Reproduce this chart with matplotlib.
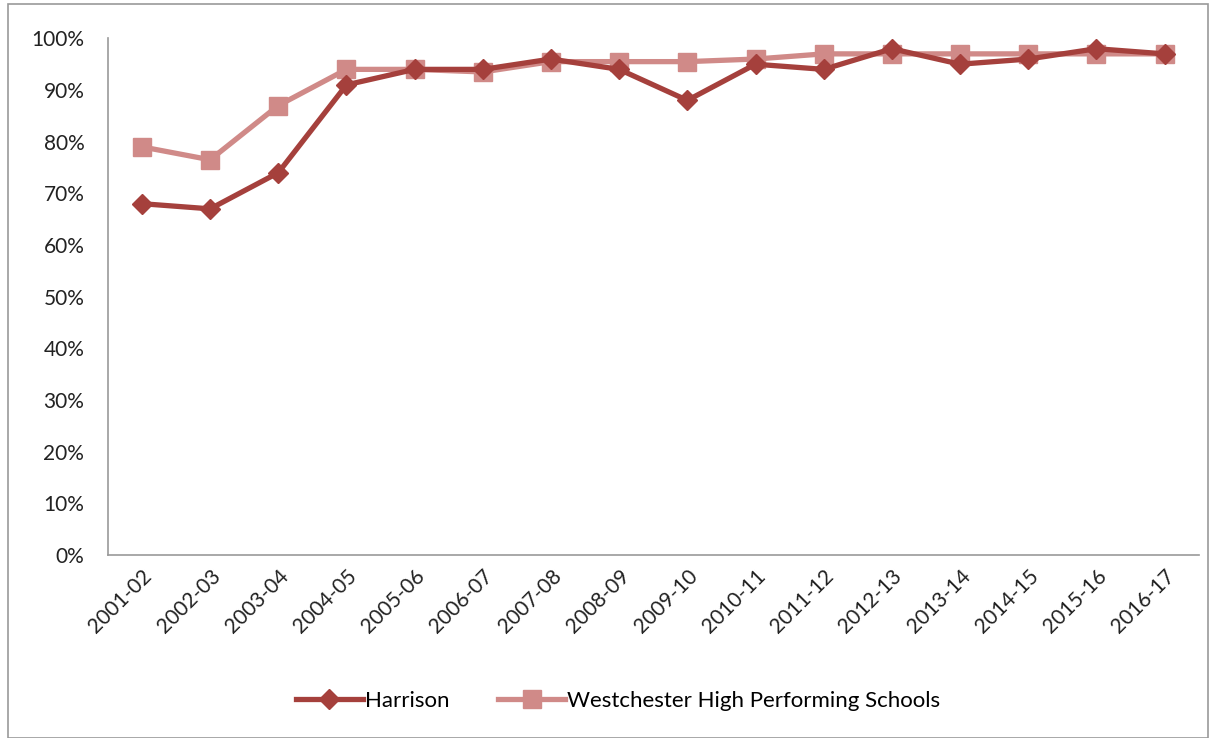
import matplotlib.pyplot as plt
from matplotlib.patches import Rectangle
from matplotlib.ticker import PercentFormatter

plt.rcParams['font.family'] = ['Lato', 'DejaVu Sans']

years = ["2001-02", "2002-03", "2003-04", "2004-05", "2005-06", "2006-07",
         "2007-08", "2008-09", "2009-10", "2010-11", "2011-12", "2012-13",
         "2013-14", "2014-15", "2015-16", "2016-17"]
harrison = [68, 67, 74, 91, 94, 94, 96, 94, 88, 95, 94, 98, 95, 96, 98, 97]
westchester = [79, 76.5, 87, 94, 94, 93.5, 95.5, 95.5, 95.5, 96, 97, 97, 97, 97, 97, 97]

fig = plt.figure(figsize=(12.12, 7.38), dpi=100)
ax = fig.add_axes([0.089, 0.248, 0.9, 0.7])

x = range(len(years))
ax.plot(x, harrison, color="#A5403C", lw=3.8, marker="D", ms=10,
        label="Harrison", zorder=3)
ax.plot(x, westchester, color="#D08A88", lw=3.8, marker="s", ms=12.5,
        label="Westchester High Performing Schools", zorder=2)

ax.set_xlim(-0.5, len(years) - 0.5)
ax.set_ylim(0, 100)
ax.set_yticks(range(0, 101, 10))
ax.yaxis.set_major_formatter(PercentFormatter(decimals=0))
ax.set_xticks(list(x))
ax.set_xticklabels(years, rotation=45, ha="right", rotation_mode="anchor")
ax.tick_params(axis="both", length=0, labelsize=15, colors="#222222")
ax.tick_params(axis="y", pad=17)
ax.tick_params(axis="x", pad=8)

for s in ["top", "right"]:
    ax.spines[s].set_visible(False)
for s in ["left", "bottom"]:
    ax.spines[s].set_color("#999999")
    ax.spines[s].set_linewidth(1.2)

fig.legend(loc="center", bbox_to_anchor=(0.51, 0.05), ncol=2, frameon=False,
           fontsize=16, handlelength=3, columnspacing=2.2, handletextpad=0.1)

fig.patches.append(Rectangle((0.007, 0.0), 0.99, 0.995, transform=fig.transFigure,
                             fill=False, edgecolor="#999999", lw=1.2))

fig.savefig("out.png")
